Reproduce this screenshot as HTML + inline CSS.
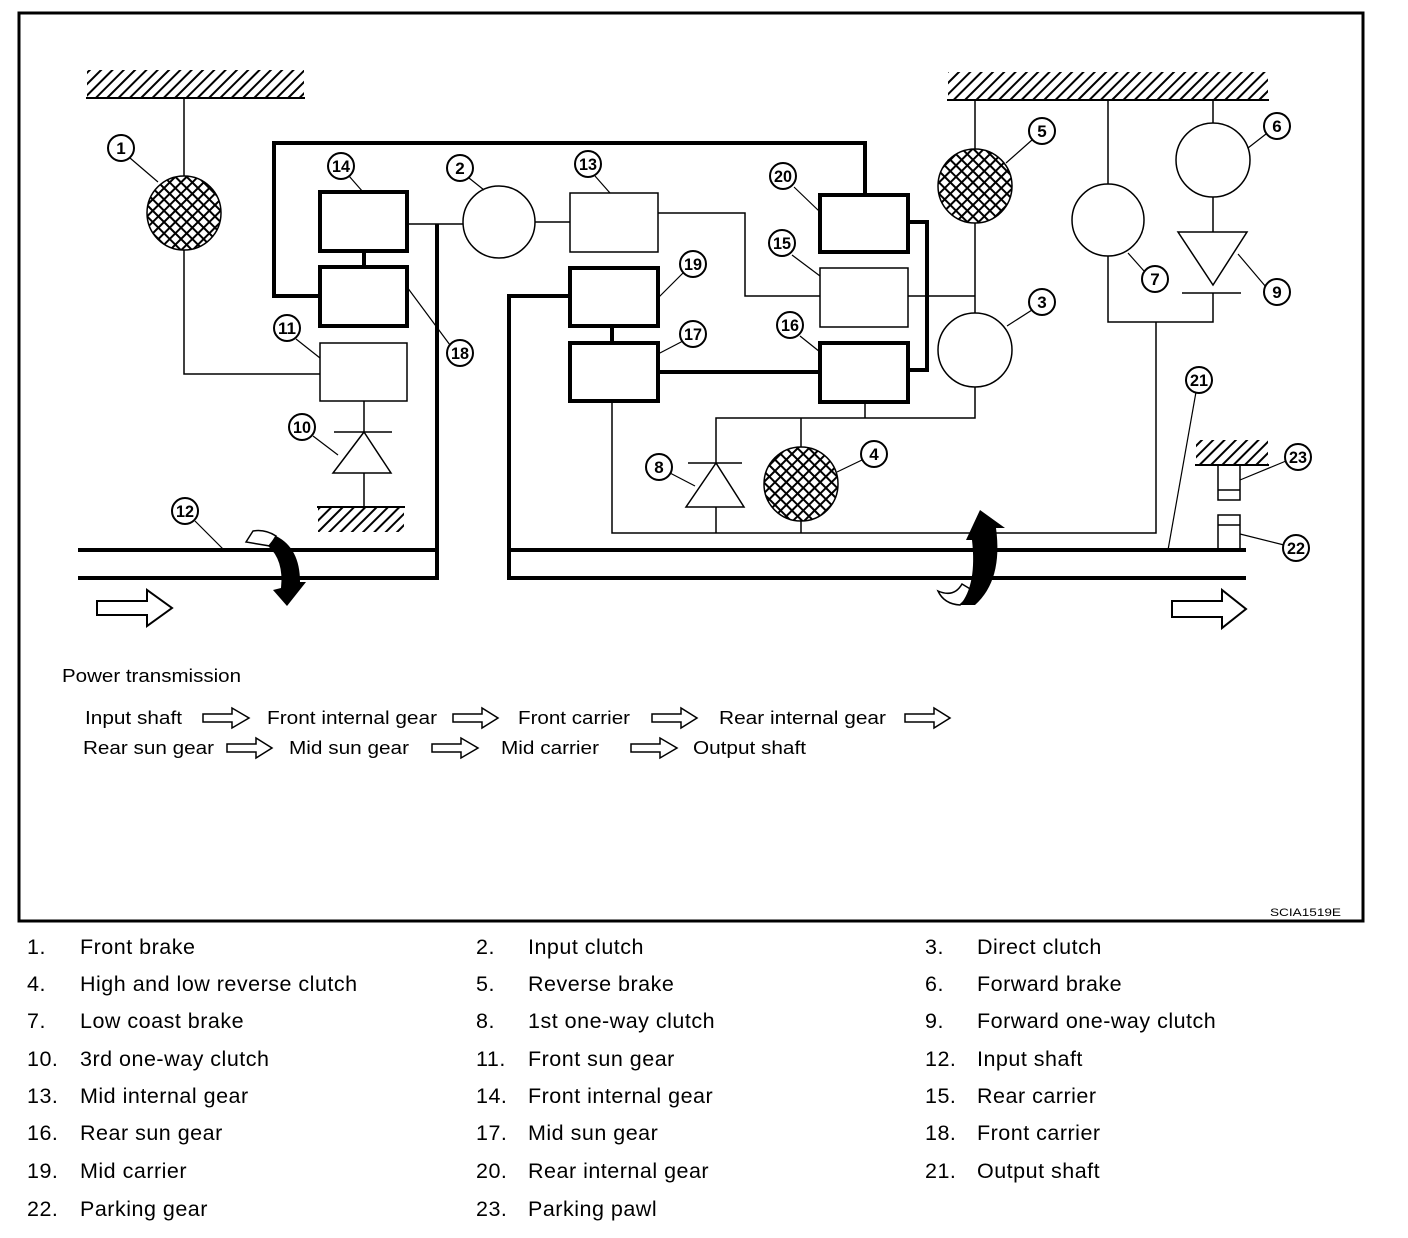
<!DOCTYPE html>
<html><head><meta charset="utf-8"><style>
html,body{margin:0;padding:0;background:#fff;}
svg{display:block;}
text{font-family:"Liberation Sans",Arial,sans-serif;fill:#000;}
.lab{font-size:17px;font-weight:bold;text-anchor:middle;}
.lg{font-size:21.5px;letter-spacing:0.5px;}
.pt{font-size:18px;}
</style></head><body>
<svg width="1408" height="1238" viewBox="0 0 1408 1238" xmlns="http://www.w3.org/2000/svg">
<defs>
<pattern id="ch" width="8" height="8" patternUnits="userSpaceOnUse" patternTransform="rotate(45)">
<rect width="8" height="8" fill="#fff"/>
<rect x="0" y="0" width="2" height="8" fill="#000"/>
<rect x="0" y="0" width="8" height="2" fill="#000"/>
</pattern>
<pattern id="hat" width="8" height="8" patternUnits="userSpaceOnUse" patternTransform="rotate(45)">
<rect width="8" height="8" fill="#fff"/>
<rect x="0" y="0" width="2" height="8" fill="#000"/>
</pattern>
</defs>
<rect x="0" y="0" width="1408" height="1238" fill="#fff"/>
<rect x="19" y="13" width="1344" height="908" fill="none" stroke="#000" stroke-width="3"/>

<rect x="87" y="70" width="217" height="27" fill="url(#hat)"/>
<line x1="86" y1="98" x2="305" y2="98" stroke="#000" stroke-width="2"/>
<rect x="948" y="72" width="320" height="27" fill="url(#hat)"/>
<line x1="947" y1="100" x2="1269" y2="100" stroke="#000" stroke-width="2"/>
<rect x="318" y="507" width="86" height="25" fill="url(#hat)"/>
<line x1="317" y1="507" x2="405" y2="507" stroke="#000" stroke-width="2"/>
<rect x="1196" y="440" width="72" height="24" fill="url(#hat)"/>
<line x1="1195" y1="465" x2="1269" y2="465" stroke="#000" stroke-width="2"/>

<g stroke="#000" fill="none">
<g stroke-width="1.5">
<polyline points="184,98 184,176"/>
<polyline points="184,250 184,374 320,374"/>
<line x1="364" y1="401" x2="364" y2="432"/>
<line x1="364" y1="473" x2="364" y2="507"/>
<line x1="407" y1="224" x2="463" y2="224"/>
<line x1="535" y1="222" x2="570" y2="222"/>
<polyline points="658,213 745,213 745,296 820,296"/>
<line x1="908" y1="296" x2="975" y2="296"/>
<polyline points="975,100 975,149"/>
<polyline points="975,223 975,313"/>
<polyline points="975,387 975,418 716,418 716,463"/>
<line x1="716" y1="507" x2="716" y2="533"/>
<line x1="865" y1="402" x2="865" y2="418"/>
<line x1="801" y1="418" x2="801" y2="447"/>
<line x1="801" y1="521" x2="801" y2="533"/>
<polyline points="612,401 612,533 1156,533 1156,322"/>
<polyline points="1108,100 1108,184"/>
<polyline points="1108,256 1108,322 1213,322 1213,293"/>
<polyline points="1213,100 1213,123"/>
<polyline points="1213,197 1213,232"/>
<line x1="1182" y1="293" x2="1241" y2="293"/>
<line x1="334" y1="432" x2="392" y2="432"/>
<line x1="688" y1="463" x2="742" y2="463"/>
<polygon points="364,432 333,473 391,473"/>
<polygon points="716,463 686,507 744,507"/>
<polygon points="1178,232 1247,232 1213,285"/>
<rect x="320" y="343" width="87" height="58"/>
<rect x="570" y="193" width="88" height="59"/>
<rect x="820" y="268" width="88" height="59"/>
<circle cx="499" cy="222" r="36"/>
<circle cx="975" cy="350" r="37"/>
<circle cx="1108" cy="220" r="36"/>
<circle cx="1213" cy="160" r="37"/>
<rect x="1218" y="465" width="22" height="35"/>
<line x1="1218" y1="490" x2="1240" y2="490"/>
<rect x="1218" y="515" width="22" height="35"/>
<line x1="1218" y1="525" x2="1240" y2="525"/>
</g>
<g stroke-width="1.5">
<circle cx="184" cy="213" r="37" fill="url(#ch)"/>
<circle cx="975" cy="186" r="37" fill="url(#ch)"/>
<circle cx="801" cy="484" r="37" fill="url(#ch)"/>
</g>
<g stroke-width="4">
<polyline points="320,296 274,296 274,143 865,143 865,195"/>
<rect x="320" y="192" width="87" height="59"/>
<rect x="320" y="267" width="87" height="59"/>
<line x1="364" y1="251" x2="364" y2="267"/>
<rect x="570" y="268" width="88" height="58"/>
<rect x="570" y="343" width="88" height="58"/>
<line x1="612" y1="326" x2="612" y2="343"/>
<rect x="820" y="195" width="88" height="57"/>
<rect x="820" y="343" width="88" height="59"/>
<polyline points="908,222 927,222 927,370 908,370"/>
<line x1="658" y1="372" x2="820" y2="372"/>
<polyline points="437,224 437,578 78,578"/>
<line x1="78" y1="550" x2="437" y2="550"/>
<polyline points="570,296 509,296 509,578 1246,578"/>
<line x1="509" y1="550" x2="1246" y2="550"/>
</g>
<g stroke-width="1.2">
<line x1="130" y1="158" x2="158" y2="182"/>
<line x1="349" y1="176" x2="363" y2="192"/>
<line x1="469" y1="178" x2="484" y2="190"/>
<line x1="595" y1="176" x2="610" y2="193"/>
<line x1="794" y1="187" x2="820" y2="212"/>
<line x1="792" y1="255" x2="820" y2="276"/>
<line x1="683" y1="273" x2="658" y2="298"/>
<line x1="683" y1="341" x2="658" y2="354"/>
<line x1="800" y1="336" x2="820" y2="352"/>
<line x1="296" y1="339" x2="320" y2="358"/>
<line x1="450" y1="345" x2="407" y2="287"/>
<line x1="313" y1="436" x2="338" y2="455"/>
<line x1="195" y1="521" x2="224" y2="550"/>
<line x1="670" y1="473" x2="695" y2="486"/>
<line x1="862" y1="460" x2="837" y2="472"/>
<line x1="1032" y1="140" x2="1006" y2="163"/>
<line x1="1032" y1="310" x2="1007" y2="326"/>
<line x1="1266" y1="134" x2="1248" y2="148"/>
<line x1="1144" y1="271" x2="1128" y2="253"/>
<line x1="1266" y1="287" x2="1238" y2="254"/>
<line x1="1196" y1="392" x2="1168" y2="550"/>
<line x1="1286" y1="461" x2="1240" y2="480"/>
<line x1="1284" y1="545" x2="1240" y2="534"/>
</g>
<g stroke-width="2" fill="#fff">
<circle cx="121" cy="148" r="13"/>
<circle cx="341" cy="166" r="13"/>
<circle cx="460" cy="168" r="13"/>
<circle cx="588" cy="164" r="13"/>
<circle cx="783" cy="176" r="13"/>
<circle cx="782" cy="243" r="13"/>
<circle cx="693" cy="264" r="13"/>
<circle cx="693" cy="334" r="13"/>
<circle cx="790" cy="325" r="13"/>
<circle cx="287" cy="328" r="13"/>
<circle cx="460" cy="353" r="13"/>
<circle cx="302" cy="427" r="13"/>
<circle cx="185" cy="511" r="13"/>
<circle cx="659" cy="467" r="13"/>
<circle cx="874" cy="454" r="13"/>
<circle cx="1042" cy="131" r="13"/>
<circle cx="1042" cy="302" r="13"/>
<circle cx="1277" cy="126" r="13"/>
<circle cx="1155" cy="279" r="13"/>
<circle cx="1277" cy="292" r="13"/>
<circle cx="1199" cy="380" r="13"/>
<circle cx="1298" cy="457" r="13"/>
<circle cx="1296" cy="548" r="13"/>
</g>
<g stroke-width="2" fill="#fff">
<polygon points="97,601 147,601 147,590 172,608 147,626 147,615 97,615"/>
<polygon points="1172,601 1222,601 1222,590 1246,609 1222,628 1222,617 1172,617"/>
</g>
<g stroke-width="1.5" fill="#fff">
<polygon points="203,714 232,714 232,708 249,718 232,728 232,722 203,722"/>
<polygon points="453,714 482,714 482,708 498,718 482,728 482,722 453,722"/>
<polygon points="652,714 681,714 681,708 697,718 681,728 681,722 652,722"/>
<polygon points="905,714 934,714 934,708 950,718 934,728 934,722 905,722"/>
<polygon points="227,744 256,744 256,738 272,748 256,758 256,752 227,752"/>
<polygon points="432,744 461,744 461,738 478,748 461,758 461,752 432,752"/>
<polygon points="631,744 660,744 660,738 677,748 660,758 660,752 631,752"/>
</g>
<path d="M246,542 L253,531 Q265,529 276,536 L270,546 Z" stroke-width="1.5" fill="#fff"/>
<path d="M276,536 Q300,548 300,582 L306,582 L287,606 L273,590 L281,588 Q284,560 268,546 Z" fill="#000" stroke="none"/>
<path d="M962,584 Q954,598 938,591 Q944,604 960,605 Q968,598 972,590 Z" stroke-width="1.5" fill="#fff"/>
<path d="M960,605 Q977,585 972,540 L966,540 L980,510 L1005,528 L996,528 Q1003,580 975,605 Z" fill="#000" stroke="none"/>
</g>

<g class="lab">
<text x="121" y="154">1</text>
<text x="341" y="172" textLength="18" lengthAdjust="spacingAndGlyphs">14</text>
<text x="460" y="174">2</text>
<text x="588" y="170" textLength="18" lengthAdjust="spacingAndGlyphs">13</text>
<text x="783" y="182" textLength="18" lengthAdjust="spacingAndGlyphs">20</text>
<text x="782" y="249" textLength="18" lengthAdjust="spacingAndGlyphs">15</text>
<text x="693" y="270" textLength="18" lengthAdjust="spacingAndGlyphs">19</text>
<text x="693" y="340" textLength="18" lengthAdjust="spacingAndGlyphs">17</text>
<text x="790" y="331" textLength="18" lengthAdjust="spacingAndGlyphs">16</text>
<text x="287" y="334" textLength="18" lengthAdjust="spacingAndGlyphs">11</text>
<text x="460" y="359" textLength="18" lengthAdjust="spacingAndGlyphs">18</text>
<text x="302" y="433" textLength="18" lengthAdjust="spacingAndGlyphs">10</text>
<text x="185" y="517" textLength="18" lengthAdjust="spacingAndGlyphs">12</text>
<text x="659" y="473">8</text>
<text x="874" y="460">4</text>
<text x="1042" y="137">5</text>
<text x="1042" y="308">3</text>
<text x="1277" y="132">6</text>
<text x="1155" y="285">7</text>
<text x="1277" y="298">9</text>
<text x="1199" y="386" textLength="18" lengthAdjust="spacingAndGlyphs">21</text>
<text x="1298" y="463" textLength="18" lengthAdjust="spacingAndGlyphs">23</text>
<text x="1296" y="554" textLength="18" lengthAdjust="spacingAndGlyphs">22</text>
</g>

<g class="pt">
<text x="62" y="682" textLength="179" lengthAdjust="spacingAndGlyphs">Power transmission</text>
<text x="85" y="724" textLength="97" lengthAdjust="spacingAndGlyphs">Input shaft</text>
<text x="267" y="724" textLength="170" lengthAdjust="spacingAndGlyphs">Front internal gear</text>
<text x="518" y="724" textLength="112" lengthAdjust="spacingAndGlyphs">Front carrier</text>
<text x="719" y="724" textLength="167" lengthAdjust="spacingAndGlyphs">Rear internal gear</text>
<text x="83" y="754" textLength="131" lengthAdjust="spacingAndGlyphs">Rear sun gear</text>
<text x="289" y="754" textLength="120" lengthAdjust="spacingAndGlyphs">Mid sun gear</text>
<text x="501" y="754" textLength="98" lengthAdjust="spacingAndGlyphs">Mid carrier</text>
<text x="693" y="754" textLength="113" lengthAdjust="spacingAndGlyphs">Output shaft</text>
</g>
<text x="1270" y="916" style="font-size:11px" textLength="71" lengthAdjust="spacingAndGlyphs">SCIA1519E</text>

<g class="lg">
<text x="27" y="954">1.</text><text x="80" y="954">Front brake</text>
<text x="476" y="954">2.</text><text x="528" y="954">Input clutch</text>
<text x="925" y="954">3.</text><text x="977" y="954">Direct clutch</text>
<text x="27" y="991">4.</text><text x="80" y="991">High and low reverse clutch</text>
<text x="476" y="991">5.</text><text x="528" y="991">Reverse brake</text>
<text x="925" y="991">6.</text><text x="977" y="991">Forward brake</text>
<text x="27" y="1028">7.</text><text x="80" y="1028">Low coast brake</text>
<text x="476" y="1028">8.</text><text x="528" y="1028">1st one-way clutch</text>
<text x="925" y="1028">9.</text><text x="977" y="1028">Forward one-way clutch</text>
<text x="27" y="1066">10.</text><text x="80" y="1066">3rd one-way clutch</text>
<text x="476" y="1066">11.</text><text x="528" y="1066">Front sun gear</text>
<text x="925" y="1066">12.</text><text x="977" y="1066">Input shaft</text>
<text x="27" y="1103">13.</text><text x="80" y="1103">Mid internal gear</text>
<text x="476" y="1103">14.</text><text x="528" y="1103">Front internal gear</text>
<text x="925" y="1103">15.</text><text x="977" y="1103">Rear carrier</text>
<text x="27" y="1140">16.</text><text x="80" y="1140">Rear sun gear</text>
<text x="476" y="1140">17.</text><text x="528" y="1140">Mid sun gear</text>
<text x="925" y="1140">18.</text><text x="977" y="1140">Front carrier</text>
<text x="27" y="1178">19.</text><text x="80" y="1178">Mid carrier</text>
<text x="476" y="1178">20.</text><text x="528" y="1178">Rear internal gear</text>
<text x="925" y="1178">21.</text><text x="977" y="1178">Output shaft</text>
<text x="27" y="1216">22.</text><text x="80" y="1216">Parking gear</text>
<text x="476" y="1216">23.</text><text x="528" y="1216">Parking pawl</text>
</g>
</svg>
</body></html>
